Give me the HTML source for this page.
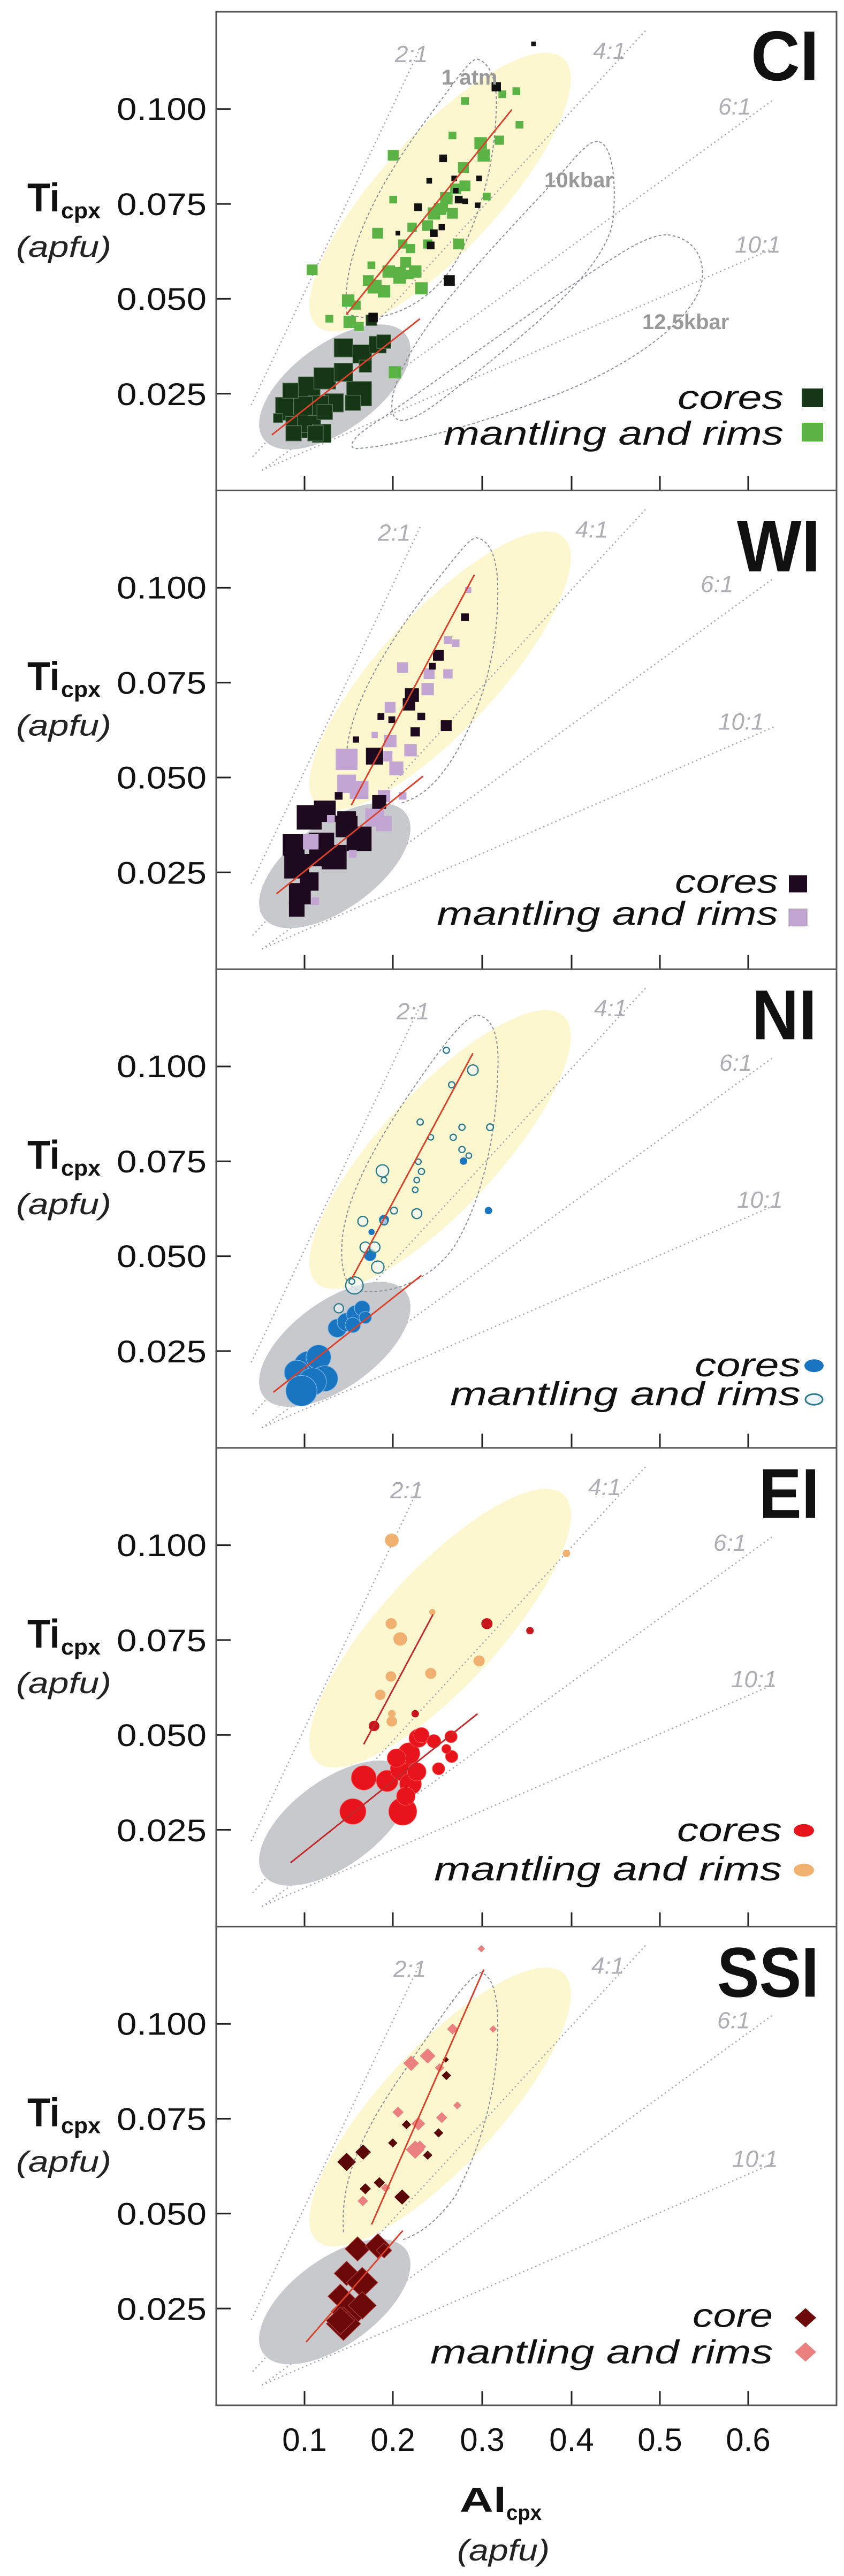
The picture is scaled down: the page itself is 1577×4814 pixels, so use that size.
<!DOCTYPE html>
<html><head><meta charset="utf-8"><style>html,body{margin:0;padding:0;background:#fff}svg{display:block}</style></head>
<body>
<svg xmlns="http://www.w3.org/2000/svg" width="1577" height="4814" viewBox="0 0 1577 4814" font-family="Liberation Sans, Arial, sans-serif">
<defs>
<clipPath id="cp"><rect x="404" y="0" width="1159" height="894.6"/></clipPath>
<g id="axes">
  <line x1="404" y1="181.8" x2="431" y2="181.8" stroke="#222" stroke-width="3"/>
  <line x1="404" y1="359.1" x2="431" y2="359.1" stroke="#222" stroke-width="3"/>
  <line x1="404" y1="536.4" x2="431" y2="536.4" stroke="#222" stroke-width="3"/>
  <line x1="404" y1="713.7" x2="431" y2="713.7" stroke="#222" stroke-width="3"/>
  <g stroke="#222" stroke-width="3">
  <line x1="569" y1="868" x2="569" y2="894.6"/><line x1="734" y1="868" x2="734" y2="894.6"/>
  <line x1="901" y1="868" x2="901" y2="894.6"/><line x1="1068" y1="868" x2="1068" y2="894.6"/>
  <line x1="1233" y1="868" x2="1233" y2="894.6"/><line x1="1398" y1="868" x2="1398" y2="894.6"/>
  </g>
  <g font-size="58" fill="#111" text-anchor="end">
  <text x="386" y="202" textLength="168" lengthAdjust="spacingAndGlyphs">0.100</text>
  <text x="386" y="380" textLength="168" lengthAdjust="spacingAndGlyphs">0.075</text>
  <text x="386" y="557" textLength="168" lengthAdjust="spacingAndGlyphs">0.050</text>
  <text x="386" y="735" textLength="168" lengthAdjust="spacingAndGlyphs">0.025</text>
  </g>
  <text x="51" y="373" font-size="75" font-weight="bold" fill="#111" textLength="61" lengthAdjust="spacingAndGlyphs">Ti</text>
  <text x="114" y="386" font-size="42" font-weight="bold" fill="#111" textLength="74" lengthAdjust="spacingAndGlyphs">cpx</text>
  <text x="30" y="458" font-size="55" font-style="italic" fill="#222" textLength="178" lengthAdjust="spacingAndGlyphs">(apfu)</text>
</g>
<g id="ratio">
  <g fill="none" stroke="#a8a8b0" stroke-width="5" stroke-linecap="round" stroke-dasharray="0.1 14">
  <line x1="115" y1="1285" x2="660" y2="110"/>
  <line x1="120" y1="1455" x2="1380" y2="60"/>
  <line x1="150" y1="1500" x2="1787" y2="289"/>
  <line x1="150" y1="1500" x2="1790" y2="774"/>
  </g>
</g>
</defs>

<rect width="1577" height="4814" fill="#fff"/>

<!-- ============ PANEL 1 CI ============ -->
<g transform="translate(0,22)">
 <g clip-path="url(#cp)">
 <g transform="translate(403,0.3) scale(0.5825,0.5707)">
  <ellipse cx="720" cy="590" rx="590" ry="190" transform="rotate(-48 720 590)" fill="#fdf7cf"/>
  <use href="#ratio"/>
  <ellipse cx="382" cy="1228" rx="285" ry="140" transform="rotate(-37 382 1228)" fill="#c8c9cd"/>
  <g fill="none" stroke="#8a8f9a" stroke-width="3.5" stroke-dasharray="9 7">
   <path d="M420,990 C400,800 520,560 700,320 C780,210 820,150 840,155 C880,165 905,230 900,320 C895,480 860,640 780,800 C700,950 560,1010 470,1000 Z"/>
   <path d="M1230,425 C1275,440 1285,560 1275,680 C1250,850 1000,1050 750,1250 C650,1330 590,1360 570,1320 C550,1270 590,1150 700,1000 C850,800 1050,600 1150,480 C1190,435 1210,420 1230,425Z"/>
   <path d="M1450,730 C1530,740 1570,800 1560,880 C1540,1000 1350,1150 1100,1250 C850,1350 600,1420 450,1430 C420,1425 440,1390 520,1340 C750,1180 1050,950 1300,790 C1370,745 1420,728 1450,730Z"/>
  </g>
  <g fill="#163716" stroke="#5d7a5d" stroke-width="2">
   <rect x="192" y="1262" width="75" height="75"/><rect x="225" y="1325" width="70" height="70"/>
   <rect x="262" y="1302" width="75" height="75"/><rect x="310" y="1350" width="60" height="60"/>
   <rect x="265" y="1195" width="70" height="70"/><rect x="315" y="1165" width="70" height="70"/>
   <rect x="380" y="1150" width="60" height="60"/><rect x="420" y="1210" width="80" height="80"/>
   <rect x="380" y="1070" width="60" height="60"/><rect x="440" y="1090" width="60" height="60"/>
   <rect x="492" y="1062" width="55" height="55"/><rect x="517" y="1057" width="45" height="45"/>
   <rect x="350" y="1250" width="60" height="60"/><rect x="297" y="1257" width="65" height="65"/>
   <rect x="250" y="1260" width="60" height="60"/><rect x="415" y="1255" width="50" height="50"/>
   <rect x="215" y="1215" width="50" height="50"/><rect x="185" y="1315" width="30" height="30"/>
   <rect x="482" y="992" width="35" height="35"/><rect x="460" y="1140" width="40" height="40"/>
   <rect x="325" y="1285" width="50" height="50"/><rect x="225" y="1355" width="50" height="50"/>
   <rect x="295" y="1355" width="50" height="50"/>
  </g>
  <g fill="#5bb346">
   <rect x="292" y="827" width="35" height="35"/><rect x="352" y="992" width="25" height="25"/>
   <rect x="410" y="995" width="40" height="40"/><rect x="445" y="1015" width="30" height="30"/>
   <rect x="405" y="925" width="40" height="40"/><rect x="435" y="945" width="30" height="30"/>
   <rect x="487" y="877" width="45" height="45"/><rect x="520" y="895" width="40" height="40"/>
   <rect x="535" y="830" width="40" height="40"/><rect x="570" y="835" width="40" height="40"/>
   <rect x="605" y="845" width="30" height="30"/><rect x="640" y="885" width="40" height="40"/>
   <rect x="487" y="817" width="25" height="25"/><rect x="502" y="707" width="35" height="35"/>
   <rect x="557" y="602" width="25" height="25"/><rect x="585" y="745" width="30" height="30"/>
   <rect x="610" y="760" width="30" height="30"/><rect x="615" y="690" width="30" height="30"/>
   <rect x="680" y="640" width="40" height="40"/><rect x="700" y="625" width="40" height="40"/>
   <rect x="742" y="642" width="35" height="35"/><rect x="720" y="590" width="40" height="40"/>
   <rect x="762" y="742" width="35" height="35"/><rect x="752" y="562" width="35" height="35"/>
   <rect x="782" y="552" width="35" height="35"/><rect x="777" y="492" width="35" height="35"/>
   <rect x="830" y="410" width="40" height="40"/><rect x="840" y="450" width="40" height="40"/>
   <rect x="895" y="405" width="30" height="30"/><rect x="857" y="592" width="25" height="25"/>
   <rect x="747" y="392" width="25" height="25"/><rect x="787" y="279" width="25" height="25"/>
   <rect x="552" y="452" width="35" height="35"/><rect x="962" y="357" width="25" height="25"/>
   <rect x="952" y="247" width="25" height="25"/><rect x="907" y="257" width="25" height="25"/>
   <rect x="555" y="1160" width="40" height="40"/><rect x="620" y="830" width="40" height="40"/>
   <rect x="592" y="802" width="35" height="35"/><rect x="665" y="745" width="30" height="30"/>
   <rect x="570" y="850" width="40" height="40"/><rect x="472" y="862" width="35" height="35"/>
   <rect x="662" y="682" width="35" height="35"/><rect x="715" y="625" width="30" height="30"/>
  </g>
  <g fill="#111">
   <rect x="1012" y="97" width="15" height="15"/><rect x="885" y="230" width="30" height="30"/>
   <rect x="717" y="467" width="25" height="25"/><rect x="676" y="544" width="18" height="18"/>
   <rect x="756" y="536" width="18" height="18"/><rect x="836" y="536" width="18" height="18"/>
   <rect x="637" y="627" width="25" height="25"/><rect x="767" y="602" width="25" height="25"/>
   <rect x="791" y="611" width="18" height="18"/><rect x="831" y="624" width="18" height="18"/>
   <rect x="577" y="717" width="15" height="15"/><rect x="687" y="712" width="25" height="25"/>
   <rect x="715" y="695" width="20" height="20"/><rect x="677" y="752" width="25" height="25"/>
   <rect x="732" y="862" width="35" height="35"/><rect x="490" y="985" width="30" height="30"/>
   <rect x="761" y="576" width="18" height="18"/>
  </g>
  <g stroke="#d9412b" stroke-width="5"><line x1="420" y1="990" x2="950" y2="320"/><line x1="180" y1="1385" x2="655" y2="1005"/></g>
 </g>
 </g>
 <g font-size="44" font-style="italic" fill="#adadb3">
  <text x="738" y="94">2:1</text><text x="1108" y="88">4:1</text><text x="1342" y="192">6:1</text><text x="1373" y="450">10:1</text>
 </g>
 <g font-size="40" font-weight="bold" fill="#999">
  <text x="825" y="136">1 atm</text><text x="1017" y="328">10kbar</text><text x="1200" y="593">12.5kbar</text>
 </g>
 <text x="1403" y="128" font-size="132" font-weight="bold" fill="#111" textLength="127" lengthAdjust="spacingAndGlyphs">CI</text>
 <g font-size="62" font-style="italic" fill="#111" text-anchor="end">
  <text x="1464" y="742" textLength="198" lengthAdjust="spacingAndGlyphs">cores</text>
  <text x="1464" y="809" textLength="635" lengthAdjust="spacingAndGlyphs">mantling and rims</text>
 </g>
 <rect x="1498" y="704" width="40" height="35" fill="#163716"/>
 <rect x="1498" y="768" width="40" height="35" fill="#5bb346"/>
 <use href="#axes"/>
</g>

<!-- ============ PANEL 2 WI ============ -->
<g transform="translate(0,916.6)">
 <g clip-path="url(#cp)">
 <g transform="translate(403,0.3) scale(0.5825,0.5707)">
  <ellipse cx="720" cy="590" rx="590" ry="190" transform="rotate(-48 720 590)" fill="#fdf7cf"/>
  <use href="#ratio"/>
  <ellipse cx="382" cy="1228" rx="285" ry="140" transform="rotate(-37 382 1228)" fill="#c8c9cd"/>
  <path d="M420,860 C430,700 560,480 720,280 C790,190 820,150 840,155 C880,165 905,220 905,330 C905,520 860,700 770,860 C700,980 640,1010 590,1025" fill="none" stroke="#8a8f9a" stroke-width="3.5" stroke-dasharray="9 7"/>
  <g fill="#c3a5d3">
   <rect x="385" y="845" width="70" height="70"/><rect x="390" y="930" width="60" height="60"/>
   <rect x="430" y="950" width="60" height="60"/><rect x="480" y="1040" width="60" height="60"/>
   <rect x="520" y="980" width="40" height="40"/><rect x="532" y="852" width="35" height="35"/>
   <rect x="540" y="800" width="40" height="40"/><rect x="557" y="887" width="45" height="45"/>
   <rect x="605" y="830" width="40" height="40"/><rect x="542" y="692" width="35" height="35"/>
   <rect x="500" y="790" width="20" height="20"/><rect x="582" y="562" width="35" height="35"/>
   <rect x="667" y="582" width="35" height="35"/><rect x="660" y="630" width="40" height="40"/>
   <rect x="730" y="585" width="30" height="30"/><rect x="757" y="487" width="25" height="25"/>
   <rect x="732" y="477" width="25" height="25"/><rect x="800" y="315" width="20" height="20"/>
   <rect x="587" y="987" width="25" height="25"/><rect x="515" y="1065" width="50" height="50"/>
  </g>
  <g fill="#1e0a1e">
   <rect x="260" y="1030" width="80" height="80"/><rect x="315" y="1015" width="70" height="70"/>
   <rect x="215" y="1125" width="70" height="70"/><rect x="220" y="1190" width="80" height="80"/>
   <rect x="235" y="1285" width="70" height="70"/><rect x="300" y="1120" width="80" height="80"/>
   <rect x="385" y="1065" width="70" height="70"/><rect x="420" y="1100" width="80" height="80"/>
   <rect x="270" y="1250" width="60" height="60"/><rect x="340" y="1160" width="80" height="80"/>
   <rect x="390" y="1050" width="60" height="60"/><rect x="382" y="987" width="25" height="25"/>
   <rect x="502" y="997" width="45" height="45"/><rect x="482" y="842" width="55" height="55"/>
   <rect x="607" y="647" width="45" height="45"/><rect x="625" y="775" width="30" height="30"/>
   <rect x="647" y="727" width="25" height="25"/><rect x="722" y="752" width="35" height="35"/>
   <rect x="697" y="522" width="35" height="35"/><rect x="684" y="564" width="22" height="22"/>
   <rect x="787" y="402" width="25" height="25"/><rect x="519" y="729" width="22" height="22"/>
   <rect x="554" y="739" width="22" height="22"/><rect x="440" y="805" width="20" height="20"/>
   <rect x="300" y="1170" width="60" height="60"/><rect x="235" y="1345" width="50" height="50"/>
   <rect x="600" y="680" width="40" height="40"/>
  </g>
  <g fill="#c3a5d3">
   <rect x="280" y="1125" width="50" height="50"/><rect x="357" y="1062" width="25" height="25"/>
   <rect x="427" y="1177" width="25" height="25"/><rect x="307" y="1332" width="25" height="25"/>
  </g>
  <g stroke="#d9412b" stroke-width="5"><line x1="435" y1="1030" x2="830" y2="275"/><line x1="195" y1="1320" x2="665" y2="935"/></g>
 </g>
 </g>
 <g font-size="44" font-style="italic" fill="#adadb3">
  <text x="706" y="94">2:1</text><text x="1075" y="88">4:1</text><text x="1309" y="190">6:1</text><text x="1342" y="447">10:1</text>
 </g>
 <text x="1377" y="151" font-size="136" font-weight="bold" fill="#111" textLength="156" lengthAdjust="spacingAndGlyphs">WI</text>
 <g font-size="62" font-style="italic" fill="#111" text-anchor="end">
  <text x="1454" y="752" textLength="193" lengthAdjust="spacingAndGlyphs">cores</text>
  <text x="1454" y="812" textLength="638" lengthAdjust="spacingAndGlyphs">mantling and rims</text>
 </g>
 <rect x="1474" y="719" width="34" height="32" fill="#1e0a1e"/>
 <rect x="1474" y="782" width="34" height="32" fill="#c3a5d3" stroke="#888" stroke-width="1"/>
 <use href="#axes"/>
</g>

<!-- ============ PANEL 3 NI ============ -->
<g transform="translate(0,1811.2)">
 <g clip-path="url(#cp)">
 <g transform="translate(403,0.3) scale(0.5825,0.5707)">
  <ellipse cx="720" cy="590" rx="590" ry="190" transform="rotate(-48 720 590)" fill="#fdf7cf"/>
  <use href="#ratio"/>
  <ellipse cx="382" cy="1228" rx="285" ry="140" transform="rotate(-37 382 1228)" fill="#c8c9cd"/>
  <path d="M840,150 C890,160 910,220 905,330 C900,560 850,760 770,900 C700,1010 580,1060 480,1055 C420,1050 400,1000 405,900 C410,780 480,620 620,410 C720,260 800,150 840,150Z" fill="none" stroke="#8a8f9a" stroke-width="3.5" stroke-dasharray="9 7"/>
  <g fill="#1a75c0" stroke="#7fb6e6" stroke-width="2">
   <circle cx="300" cy="1300" r="50"/><circle cx="330" cy="1270" r="40"/><circle cx="260" cy="1320" r="40"/>
   <circle cx="350" cy="1340" r="42"/><circle cx="310" cy="1350" r="45"/><circle cx="275" cy="1380" r="50"/>
   <circle cx="390" cy="1175" r="30"/><circle cx="420" cy="1155" r="30"/><circle cx="450" cy="1130" r="30"/>
   <circle cx="470" cy="1110" r="25"/><circle cx="480" cy="1140" r="20"/><circle cx="440" cy="1165" r="25"/>
   <circle cx="495" cy="935" r="20"/>
  </g>
  <g fill="#1a75c0">
   <circle cx="540" cy="820" r="16"/><circle cx="500" cy="860" r="10"/><circle cx="795" cy="628" r="12"/><circle cx="875" cy="790" r="12"/>
  </g>
  <g fill="#eef6fa" fill-opacity="0.6" stroke="#2a7a8a" stroke-width="4">
   <circle cx="740" cy="265" r="10"/><circle cx="825" cy="330" r="17"/><circle cx="757" cy="378" r="10"/>
   <circle cx="656" cy="500" r="10"/><circle cx="690" cy="550" r="9"/><circle cx="790" cy="517" r="10"/>
   <circle cx="880" cy="517" r="11"/><circle cx="762" cy="550" r="10"/><circle cx="790" cy="590" r="10"/>
   <circle cx="812" cy="610" r="9"/><circle cx="650" cy="630" r="9"/><circle cx="535" cy="660" r="20"/>
   <circle cx="540" cy="690" r="9"/><circle cx="660" cy="662" r="10"/><circle cx="645" cy="690" r="9"/>
   <circle cx="640" cy="722" r="9"/><circle cx="572" cy="790" r="11"/><circle cx="645" cy="800" r="16"/>
   <circle cx="472" cy="825" r="16"/><circle cx="540" cy="825" r="12"/><circle cx="480" cy="910" r="17"/>
   <circle cx="510" cy="910" r="17"/><circle cx="520" cy="975" r="20"/><circle cx="445" cy="1035" r="28"/>
   <circle cx="437" cy="1022" r="9"/><circle cx="395" cy="1110" r="15"/>
  </g>
  <g stroke="#d9412b" stroke-width="5"><line x1="437" y1="1012" x2="825" y2="275"/><line x1="185" y1="1385" x2="660" y2="1002"/></g>
 </g>
 </g>
 <g font-size="44" font-style="italic" fill="#adadb3">
  <text x="741" y="94">2:1</text><text x="1110" y="88">4:1</text><text x="1344" y="190">6:1</text><text x="1377" y="446">10:1</text>
 </g>
 <text x="1405" y="131" font-size="132" font-weight="bold" fill="#111" textLength="121" lengthAdjust="spacingAndGlyphs">NI</text>
 <g font-size="62" font-style="italic" fill="#111" text-anchor="end">
  <text x="1496" y="761" textLength="198" lengthAdjust="spacingAndGlyphs">cores</text>
  <text x="1496" y="815" textLength="655" lengthAdjust="spacingAndGlyphs">mantling and rims</text>
 </g>
 <ellipse cx="1521" cy="741" rx="18" ry="12" fill="#1a75c0"/>
 <ellipse cx="1521" cy="804" rx="16" ry="10" fill="#eef6fa" stroke="#2a7a8a" stroke-width="3"/>
 <use href="#axes"/>
</g>

<!-- ============ PANEL 4 EI ============ -->
<g transform="translate(0,2705.8)">
 <g clip-path="url(#cp)">
 <g transform="translate(403,0.3) scale(0.5825,0.5707)">
  <ellipse cx="720" cy="590" rx="590" ry="190" transform="rotate(-48 720 590)" fill="#fdf7cf"/>
  <use href="#ratio"/>
  <ellipse cx="382" cy="1228" rx="285" ry="140" transform="rotate(-37 382 1228)" fill="#c8c9cd"/>
  <g fill="#f0b070">
   <circle cx="565" cy="302" r="22"/><circle cx="1125" cy="345" r="12"/><circle cx="695" cy="537" r="10"/>
   <circle cx="563" cy="575" r="18"/><circle cx="592" cy="625" r="22"/><circle cx="845" cy="697" r="18"/>
   <circle cx="690" cy="738" r="18"/><circle cx="562" cy="748" r="17"/><circle cx="528" cy="808" r="17"/>
   <circle cx="565" cy="870" r="12"/><circle cx="565" cy="895" r="17"/>
  </g>
  <g fill="#c8141c">
   <circle cx="870" cy="575" r="18"/><circle cx="1008" cy="598" r="12"/><circle cx="508" cy="910" r="17"/><circle cx="640" cy="870" r="12"/>
  </g>
  <g fill="#e8141c" stroke="#ff6060" stroke-width="1.5">
   <circle cx="440" cy="1190" r="42"/><circle cx="600" cy="1190" r="45"/><circle cx="475" cy="1080" r="40"/>
   <circle cx="550" cy="1090" r="35"/><circle cx="600" cy="1050" r="40"/><circle cx="620" cy="1000" r="35"/>
   <circle cx="650" cy="950" r="30"/><circle cx="660" cy="940" r="25"/><circle cx="700" cy="960" r="22"/>
   <circle cx="625" cy="1100" r="35"/><circle cx="610" cy="1140" r="30"/><circle cx="755" cy="945" r="20"/>
   <circle cx="757" cy="1010" r="20"/><circle cx="715" cy="1050" r="20"/><circle cx="580" cy="1015" r="30"/>
   <circle cx="740" cy="985" r="15"/><circle cx="645" cy="1060" r="30"/>
  </g>
  <g stroke="#c0282a" stroke-width="5"><line x1="475" y1="970" x2="697" y2="545"/><line x1="240" y1="1358" x2="840" y2="870"/></g>
 </g>
 </g>
 <g font-size="44" font-style="italic" fill="#adadb3">
  <text x="729" y="94">2:1</text><text x="1099" y="88">4:1</text><text x="1333" y="192">6:1</text><text x="1366" y="447">10:1</text>
 </g>
 <text x="1418" y="131" font-size="132" font-weight="bold" fill="#111" textLength="113" lengthAdjust="spacingAndGlyphs">EI</text>
 <g font-size="62" font-style="italic" fill="#111" text-anchor="end">
  <text x="1461" y="735" textLength="196" lengthAdjust="spacingAndGlyphs">cores</text>
  <text x="1461" y="808" textLength="650" lengthAdjust="spacingAndGlyphs">mantling and rims</text>
 </g>
 <ellipse cx="1502" cy="715" rx="19" ry="12" fill="#e8141c"/>
 <ellipse cx="1502" cy="789" rx="19" ry="12" fill="#f0b070"/>
 <use href="#axes"/>
</g>

<!-- ============ PANEL 5 SSI ============ -->
<g transform="translate(0,3600.4)">
 <g clip-path="url(#cp)">
 <g transform="translate(403,0.3) scale(0.5825,0.5707)">
  <ellipse cx="720" cy="590" rx="590" ry="190" transform="rotate(-48 720 590)" fill="#fdf7cf"/>
  <use href="#ratio"/>
  <ellipse cx="382" cy="1228" rx="285" ry="140" transform="rotate(-37 382 1228)" fill="#c8c9cd"/>
  <path d="M410,1000 C400,850 450,700 600,480 C720,300 800,170 850,150 C890,160 905,230 905,330 C905,520 860,700 770,880 C700,980 640,1010 600,1025" fill="none" stroke="#8a8f9a" stroke-width="3.5" stroke-dasharray="9 7"/>
  <g fill="#6b0808" stroke="#b04040" stroke-width="2">
   <path d="M455,1015l40,40l-40,40l-40-40z"/><path d="M520,1005l40,40l-40,40l-40-40z"/>
   <path d="M420,1095l40,40l-40,40l-40-40z"/><path d="M470,1115l50,50l-50,50l-50-50z"/>
   <path d="M400,1170l40,40l-40,40l-40-40z"/><path d="M430,1200l60,60l-60,60l-60-60z"/>
   <path d="M410,1245l55,55l-55,55l-55-55z"/><path d="M470,1195l45,45l-45,45l-45-45z"/>
   <path d="M400,1245l45,45l-45,45l-45-45z"/><path d="M540,1035l25,25l-25,25l-25-25z"/>
  </g>
  <g fill="#5a0606">
   <path d="M420,740l30,30l-30,30l-30-30z"/><path d="M473,713l25,25l-25,25l-25-25z"/>
   <path d="M480,840l18,18l-18,18l-18-18z"/><path d="M525,820l18,18l-18,18l-18-18z"/>
   <path d="M598,860l25,25l-25,25l-25-25z"/><path d="M568,693l15,15l-15,15l-15-15z"/>
   <path d="M612,633l15,15l-15,15l-15-15z"/><path d="M715,660l15,15l-15,15l-15-15z"/>
   <path d="M680,733l15,15l-15,15l-15-15z"/><path d="M740,472l15,15l-15,15l-15-15z"/>
   <path d="M738,425l10,10l-10,10l-10-10z"/>
  </g>
  <g fill="#ea8080">
   <path d="M852,60l12,12l-12,12l-12-12z"/><path d="M890,323l12,12l-12,12l-12-12z"/>
   <path d="M760,317l18,18l-18,18l-18-18z"/><path d="M627,422l25,25l-25,25l-25-25z"/>
   <path d="M680,398l25,25l-25,25l-25-25z"/><path d="M718,447l15,15l-15,15l-15-15z"/>
   <path d="M775,572l13,13l-13,13l-13-13z"/><path d="M585,589l18,18l-18,18l-18-18z"/>
   <path d="M725,607l18,18l-18,18l-18-18z"/><path d="M650,623l22,22l-22,22l-22-22z"/>
   <path d="M640,700l30,30l-30,30l-30-30z"/><path d="M655,700l20,20l-20,20l-20-20z"/>
   <path d="M545,840l15,15l-15,15l-15-15z"/><path d="M472,881l17,17l-17,17l-17-17z"/>
  </g>
  <g stroke="#d9412b" stroke-width="5"><line x1="500" y1="975" x2="860" y2="140"/><line x1="290" y1="1360" x2="600" y2="995"/></g>
 </g>
 </g>
 <g font-size="44" font-style="italic" fill="#adadb3">
  <text x="735" y="94">2:1</text><text x="1105" y="88">4:1</text><text x="1340" y="190">6:1</text><text x="1368" y="449">10:1</text>
 </g>
 <text x="1340" y="131" font-size="132" font-weight="bold" fill="#111" textLength="190" lengthAdjust="spacingAndGlyphs">SSI</text>
 <g font-size="62" font-style="italic" fill="#111" text-anchor="end">
  <text x="1444" y="748" textLength="150" lengthAdjust="spacingAndGlyphs">core</text>
  <text x="1444" y="816" textLength="640" lengthAdjust="spacingAndGlyphs">mantling and rims</text>
 </g>
 <path d="M1505,713l20,18l-20,18l-20-18z" fill="#6b0808"/>
 <path d="M1505,777l20,18l-20,18l-20-18z" fill="#ea8080"/>
 <use href="#axes"/>
</g>

<!-- frame and separators -->
<g fill="none" stroke="#555" stroke-width="3">
 <rect x="404" y="22" width="1159" height="4473"/>
 <line x1="404" y1="916.6" x2="1563" y2="916.6"/>
 <line x1="404" y1="1811.2" x2="1563" y2="1811.2"/>
 <line x1="404" y1="2705.8" x2="1563" y2="2705.8"/>
 <line x1="404" y1="3600.4" x2="1563" y2="3600.4"/>
</g>

<!-- x axis labels -->
<g font-size="60" fill="#111" text-anchor="middle">
 <text x="569" y="4580">0.1</text><text x="734" y="4580">0.2</text><text x="901" y="4580">0.3</text>
 <text x="1068" y="4580">0.4</text><text x="1233" y="4580">0.5</text><text x="1398" y="4580">0.6</text>
</g>
<text x="859" y="4694" font-size="64" font-weight="bold" fill="#111" textLength="87" lengthAdjust="spacingAndGlyphs">Al</text>
<text x="946" y="4709" font-size="40" font-weight="bold" fill="#111" textLength="66" lengthAdjust="spacingAndGlyphs">cpx</text>
<text x="854" y="4785" font-size="56" font-style="italic" fill="#222" textLength="173" lengthAdjust="spacingAndGlyphs">(apfu)</text>
</svg>
</body></html>
